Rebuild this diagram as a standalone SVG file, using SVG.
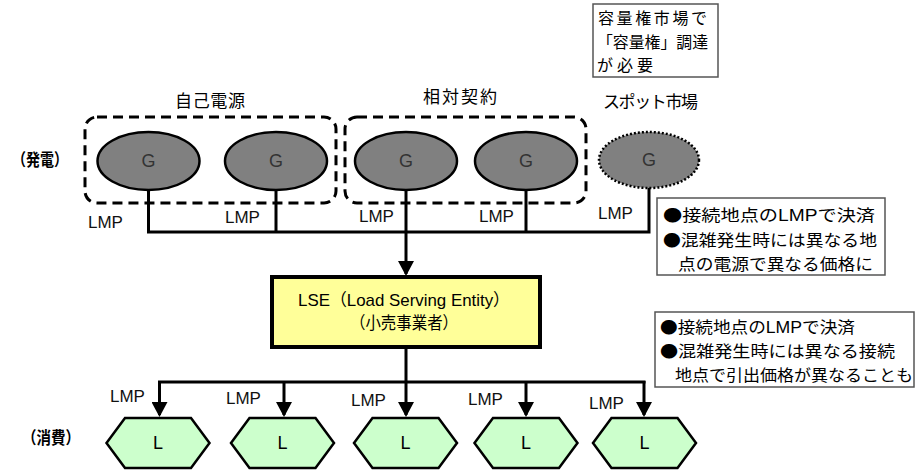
<svg xmlns="http://www.w3.org/2000/svg" width="916" height="470" viewBox="0 0 916 470">
<style>
  .t { font-family: "Liberation Sans", "Noto Sans CJK JP", sans-serif; fill: #000; }
  .j { font-family: "Noto Sans CJK JP", "Liberation Sans", sans-serif; fill: #000; }
  .lmp { font-family: "Liberation Sans", sans-serif; font-size: 17px; fill: #111; }
  .gen { fill: #808080; stroke: #000; stroke-width: 2.5; }
  .spot { fill: #808080; stroke: #000; stroke-width: 2.5; stroke-dasharray: 2 2; }
  .grp { fill: none; stroke: #000; stroke-width: 3; stroke-dasharray: 10 6; }
  .gtxt { font-family: "Liberation Sans", sans-serif; font-size: 18px; fill: #333; text-anchor: middle; }
  .load { fill: #CCFFCC; stroke: #000; stroke-width: 2.5; }
  .ltxt { font-family: "Liberation Sans", sans-serif; font-size: 18px; fill: #000; text-anchor: middle; }
  .note { fill: #fff; stroke: #555; stroke-width: 1.5; }
  .wire { fill: none; stroke: #000; stroke-width: 3; }
  .arr { fill: none; stroke: #000; stroke-width: 3; marker-end: url(#ah); }
</style>
<defs>
  <marker id="ah" markerUnits="userSpaceOnUse" markerWidth="15" markerHeight="16" viewBox="0 0 15 16" refX="13" refY="8" orient="auto">
    <path d="M0,0 L15,8 L0,16 Z" fill="#000"/>
  </marker>
  <polygon id="hex" points="-51.5,0 -33,-25 33,-25 51.5,0 33,25 -33,25"/>
</defs>

<!-- side labels -->
<text class="j" x="12" y="166" font-size="17" font-weight="bold" textLength="56" lengthAdjust="spacingAndGlyphs">（発電）</text>
<text class="j" x="22" y="444" font-size="17" font-weight="bold" textLength="58" lengthAdjust="spacingAndGlyphs">（消費）</text>

<!-- group labels -->
<text class="j" x="175" y="107" font-size="17" textLength="70">自己電源</text>
<text class="j" x="423" y="103" font-size="17" textLength="74">相対契約</text>
<text class="j" x="603" y="108" font-size="17" textLength="95">スポット市場</text>

<!-- dashed groups -->
<g id="group-self">
  <rect class="grp" x="85" y="117" width="251" height="86" rx="12"/>
</g>
<g id="group-bilateral">
  <rect class="grp" x="345" y="117" width="241" height="86" rx="12"/>
</g>

<!-- generators -->
<g id="gen1"><ellipse class="gen" cx="148.5" cy="161" rx="51" ry="29"/><text class="gtxt" x="148.5" y="167">G</text></g>
<g id="gen2"><ellipse class="gen" cx="276" cy="161" rx="51" ry="29"/><text class="gtxt" x="276" y="167">G</text></g>
<g id="gen3"><ellipse class="gen" cx="406" cy="161" rx="51" ry="29"/><text class="gtxt" x="406" y="167">G</text></g>
<g id="gen4"><ellipse class="gen" cx="526" cy="161" rx="51" ry="29"/><text class="gtxt" x="526" y="167">G</text></g>
<g id="gen-spot"><ellipse class="spot" cx="649" cy="160" rx="50" ry="28"/><text class="gtxt" x="649" y="166">G</text></g>

<!-- notes -->
<g id="note-capacity">
  <rect class="note" x="593" y="4" width="125" height="73"/>
  <text class="j" x="598" y="24" font-size="16" textLength="109">容量権市場で</text>
  <text class="j" x="597" y="48" font-size="16" textLength="111" lengthAdjust="spacingAndGlyphs">「容量権」調達</text>
  <text class="j" x="597" y="71" font-size="16" textLength="56">が必要</text>
</g>
<g id="note-gen">
  <rect class="note" x="657" y="198" width="228" height="77"/>
  <text class="j" x="663" y="221" font-size="16" textLength="212" lengthAdjust="spacingAndGlyphs">●接続地点の<tspan font-family="Liberation Sans">LMP</tspan>で決済</text>
  <text class="j" x="663" y="246" font-size="16" textLength="214" lengthAdjust="spacingAndGlyphs">●混雑発生時には異なる地</text>
  <text class="j" x="678" y="270" font-size="16" textLength="195" lengthAdjust="spacingAndGlyphs">点の電源で異なる価格に</text>
</g>
<g id="note-load">
  <rect class="note" x="655" y="312" width="259" height="75"/>
  <text class="j" x="660" y="333" font-size="16" textLength="195" lengthAdjust="spacingAndGlyphs">●接続地点の<tspan font-family="Liberation Sans">LMP</tspan>で決済</text>
  <text class="j" x="660" y="357" font-size="16" textLength="235" lengthAdjust="spacingAndGlyphs">●混雑発生時には異なる接続</text>
  <text class="j" x="675" y="381" font-size="16" textLength="238" lengthAdjust="spacingAndGlyphs">地点で引出価格が異なることも</text>
</g>

<!-- LSE -->
<g id="lse">
  <rect x="272" y="277" width="268" height="70" fill="#FFFF99" stroke="#000" stroke-width="4"/>
  <text class="t" x="298" y="306" font-size="17" textLength="212" lengthAdjust="spacingAndGlyphs">LSE（Load Serving Entity）</text>
  <text class="j" x="350" y="329" font-size="17" textLength="108" lengthAdjust="spacingAndGlyphs">（小売事業者）</text>
</g>

<!-- loads -->
<g id="load1"><use href="#hex" class="load" x="158" y="443"/><text class="ltxt" x="158" y="449">L</text></g>
<g id="load2"><use href="#hex" class="load" x="282.5" y="443"/><text class="ltxt" x="282.5" y="449">L</text></g>
<g id="load3"><use href="#hex" class="load" x="405.5" y="443"/><text class="ltxt" x="405.5" y="449">L</text></g>
<g id="load4"><use href="#hex" class="load" x="526" y="443"/><text class="ltxt" x="526" y="449">L</text></g>
<g id="load5"><use href="#hex" class="load" x="644.5" y="443"/><text class="ltxt" x="644.5" y="449">L</text></g>

<!-- connectors -->
<g id="connectors">
  <path class="wire" d="M148.5,190 V232 M276,190 V232 M526,190 V232 M649,188 V232 M147,232 H650.5"/>
  <path class="arr" d="M406,190 V274"/>
  <path class="wire" d="M406,347 V382 M158,382 H645.5"/>
  <path class="arr" d="M406,382 V415"/>
  <path class="arr" d="M159.5,381 V415"/>
  <path class="arr" d="M284,382 V415"/>
  <path class="arr" d="M526,382 V415"/>
  <path class="arr" d="M644,381 V415"/>
</g>

<!-- LMP labels -->
<g id="lmp-labels">
  <text class="lmp" x="88" y="228">LMP</text>
  <text class="lmp" x="225" y="223">LMP</text>
  <text class="lmp" x="359" y="222">LMP</text>
  <text class="lmp" x="479" y="222">LMP</text>
  <text class="lmp" x="598" y="219">LMP</text>
  <text class="lmp" x="110" y="402">LMP</text>
  <text class="lmp" x="226" y="404">LMP</text>
  <text class="lmp" x="351" y="406">LMP</text>
  <text class="lmp" x="468" y="405">LMP</text>
  <text class="lmp" x="589" y="409">LMP</text>
</g>
</svg>
